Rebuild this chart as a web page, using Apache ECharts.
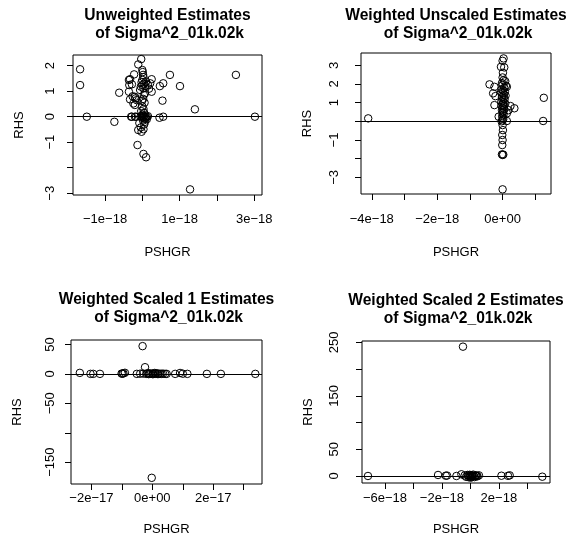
<!DOCTYPE html>
<html>
<head>
<meta charset="utf-8">
<script src="https://cdn.jsdelivr.net/npm/echarts@6/dist/echarts.min.js"></script>
<style>
  html, body { margin: 0; padding: 0; background: #fff; }
  #chart { width: 568px; height: 554px; }
</style>
</head>
<body>
<div id="chart"></div>
<script>
// PSHGR values are kept in units of 1e-18 (panel 3 in units of 1e-17), pairs are [PSHGR, RHS]
const unweighted = [
  [-1.67, 1.86], [-1.67, 1.24], [-1.49, 0.0], [-0.75, -0.2], [-0.62, 0.94],
  [-0.03, 2.26], [-0.11, 2.05], [-0.22, 1.66], [-0.36, 1.44], [-0.28, 1.27], [-0.33, 1.47], [-0.35, 1.24],
  [-0.36, 0.98], [-0.33, 0.68], [-0.2, 0.78], [-0.15, 0.65], [-0.24, 0.52], [-0.2, 0.46], [-0.26, 0.8], [-0.18, 0.72],
  [-0.3, 0.0], [-0.17, 0.0], [-0.28, 0.0], [-0.2, 0.0],
  [-0.11, -0.52], [-0.04, -0.42], [0.03, -0.49], [-0.02, -0.59], [0.05, -0.3], [-0.08, -0.25],
  [-0.13, -1.11], [0.03, -1.46], [0.1, -1.59],
  [0.0, 1.83], [0.01, 1.75], [0.02, 1.64], [0.03, 1.55], [0.0, 1.44], [0.0, 1.24], [0.03, 1.11],
  [-0.06, 1.05], [0.07, 0.92], [-0.02, 1.35], [0.05, 1.3], [0.08, 1.2], [-0.04, 1.18], [0.1, 1.38],
  [0.04, 0.85], [0.02, 0.7], [-0.01, 0.62], [0.06, 0.55], [0.0, 0.4], [0.03, 0.3], [-0.03, 0.22],
  [0.05, 0.15], [0.0, 0.08], [0.02, 0.04], [-0.02, 0.02], [0.04, 0.0], [0.08, 0.0], [0.12, 0.0],
  [0.15, 0.02], [0.0, -0.04], [0.06, -0.08], [0.1, -0.05], [-0.05, 0.0], [0.02, -0.15], [0.07, -0.2], [0.12, -0.1],
  [0.25, 1.47], [0.21, 1.31], [0.25, 0.98], [0.15, 1.25], [0.18, 1.1], [0.47, 1.2], [0.56, 1.31],
  [0.54, 0.63], [0.46, -0.04], [0.56, 0.0], [0.74, 1.64], [1.01, 1.2], [1.41, 0.29], [1.28, -2.85],
  [2.51, 1.64], [3.02, 0.0]
];

const weightedUnscaled = [
  [-4.11, 0.16], [-0.4, 1.98], [-0.25, 1.85], [-0.29, 1.5], [-0.22, 1.35], [-0.25, 0.87], [-0.12, 0.25],
  [0.03, 3.37], [0.0, 3.24], [-0.05, 2.92], [0.05, 2.89], [0.01, 2.6], [0.0, 2.35], [0.03, 2.2],
  [0.08, 2.15], [-0.02, 2.05], [0.1, 1.9], [0.13, 1.85], [0.0, 1.95], [0.05, 1.8], [-0.03, 1.72],
  [0.02, 1.65], [0.07, 1.6], [-0.05, 1.55], [0.0, 1.5], [0.04, 1.42], [0.09, 1.38], [-0.02, 1.3],
  [0.03, 1.25], [0.06, 1.18], [0.0, 1.12], [-0.04, 1.05], [0.02, 1.0], [0.08, 0.95], [0.01, 0.9],
  [-0.03, 0.85], [0.04, 0.8], [0.0, 0.72], [0.05, 0.65], [-0.02, 0.6], [0.02, 0.52], [0.0, 0.45],
  [0.03, 0.38], [-0.01, 0.3], [0.0, 0.2], [0.02, 0.12], [0.0, 0.05], [-0.03, 0.0],
  [0.24, 0.82], [0.36, 0.7], [0.18, 0.6], [0.13, 0.43], [0.13, 0.02],
  [0.0, -0.2], [0.01, -0.47], [-0.01, -0.73], [0.0, -1.0], [-0.01, -1.27], [-0.02, -1.77], [0.0, -1.8], [0.02, -1.78],
  [0.0, -3.64], [1.26, 1.26], [1.24, 0.02]
];

const weightedScaled1 = [
  [-2.38, 1.7], [-2.03, 0], [-1.94, 0], [-1.72, 0], [-1.01, 0.5], [-0.95, 1.0], [-0.9, 1.8], [-0.98, 0.2],
  [-0.51, 0], [-0.4, 0.3], [-0.32, 47.1], [-0.24, 11.3], [-0.3, 0.5], [-0.2, 0], [-0.15, 1.2], [-0.1, 0.2],
  [-0.05, 0.8], [0.0, 0], [0.02, -0.5], [0.05, 0.6], [0.1, 0.1], [0.15, 0.9], [0.2, 0], [0.25, 0.3],
  [0.3, 0], [0.35, 0.4], [0.42, 0], [0.47, 0], [-0.12, -0.4], [0.08, 1.5], [0.18, -0.3],
  [0.75, 0], [0.91, 1.5], [1.0, 0.3], [1.15, 0], [1.79, 0], [2.25, 0], [3.38, 0], [-0.02, -176.5]
];

const weightedScaled2 = [
  [-7.19, 0], [-2.27, 1.9], [-1.73, 0.5], [-1.64, 0.8], [-0.98, 0], [-0.63, 3.2], [-0.52, 242],
  [-0.4, 1.0], [-0.3, -1.5], [-0.2, 2.0], [-0.1, -2.5], [0.0, 0.5], [0.05, -3.0], [0.1, 1.5],
  [0.15, -1.0], [0.2, 2.5], [0.25, 0], [0.3, -2.0], [0.35, 1.0], [0.4, 0.2], [0.5, -0.5], [0.6, 1.2],
  [0.0, -1.5], [-0.05, 2.2], [-0.15, 0.3], [0.12, -0.4], [0.45, 0.8],
  [2.18, 0.5], [2.64, 0.3], [2.76, 1.2], [5.05, -1.3]
];

// axis ticks and the labels R kept (overlapping ones dropped)
const xTicks1 = [-1, 0, 1, 2, 3], xLabels1 = [-1, 1, 3];
const yTicks1 = [-3, -2, -1, 0, 1, 2], yLabels1 = [-3, -1, 0, 1, 2];
const xTicks2 = [-4, -3, -2, -1, 0, 1], xLabels2 = [-4, -2, 0];
const yTicks2 = [-3, -2, -1, 0, 1, 2, 3], yLabels2 = [-3, -1, 1, 2, 3];
const xTicks3 = [-2, -1, 0, 1, 2, 3], xLabels3 = [-2, 0, 2];
const yTicks3 = [-150, -100, -50, 0, 50], yLabels3 = [-150, -50, 0, 50];
const xTicks4 = [-6, -4, -2, 0, 2, 4], xLabels4 = [-6, -2, 2];
const yTicks4 = [0, 50, 100, 150, 200, 250], yLabels4 = [0, 50, 150, 250];

const titles = [
  'Unweighted Estimates\n of Sigma^2_01k.02k',
  'Weighted Unscaled Estimates\n of Sigma^2_01k.02k',
  'Weighted Scaled 1 Estimates\n of Sigma^2_01k.02k',
  'Weighted Scaled 2 Estimates\n of Sigma^2_01k.02k'
];

const FONT = "'Liberation Sans', Arial, Helvetica, sans-serif";

const sci = exp => v => v === 0 ? '0e+00' : (v < 0 ? '\u2212' : '') + Math.abs(v) + 'e\u2212' + exp;
const plain = v => v < 0 ? '\u2212' + Math.abs(v) : String(v);

const panels = [
  { data: unweighted, grid: { left: 73, top: 55, width: 189, height: 140 }, titleTop: 6,
    xRange: [-1.86, 3.21], yRange: [-3.07, 2.42], xTicks: xTicks1, xLabels: xLabels1, yTicks: yTicks1, yLabels: yLabels1,
    exp: '18', xMargin: 18, xNameGap: 51, yMargin: 16 },
  { data: weightedUnscaled, grid: { left: 361, top: 53, width: 190, height: 141 }, titleTop: 6,
    xRange: [-4.33, 1.48], yRange: [-3.89, 3.66], xTicks: xTicks2, xLabels: xLabels2, yTicks: yTicks2, yLabels: yLabels2,
    exp: '18', xMargin: 19, xNameGap: 52, yMargin: 20 },
  { data: weightedScaled1, grid: { left: 71, top: 340, width: 191, height: 144 }, titleTop: 290,
    xRange: [-2.67, 3.6], yRange: [-187, 57.5], xTicks: xTicks3, xLabels: xLabels3, yTicks: yTicks3, yLabels: yLabels3,
    exp: '17', xMargin: 8, xNameGap: 39, yMargin: 14 },
  { data: weightedScaled2, grid: { left: 362, top: 341, width: 188, height: 142 }, titleTop: 291,
    xRange: [-7.61, 5.59], yRange: [-13.1, 252.6], xTicks: xTicks4, xLabels: xLabels4, yTicks: yTicks4, yLabels: yLabels4,
    exp: '18', xMargin: 9, xNameGap: 40, yMargin: 21 }
];

const chart = echarts.init(document.getElementById('chart'));

const option = {
  animation: false,
  backgroundColor: '#fff',
  textStyle: { fontFamily: FONT, color: '#000' },
  graphic: panels.map((p, i) => ({
    type: 'text',
    x: p.grid.left + p.grid.width / 2,
    y: p.titleTop,
    style: {
      text: titles[i],
      fill: '#000',
      font: 'bold 15.6px ' + FONT,
      textAlign: 'center',
      textVerticalAlign: 'top',
      lineHeight: 18.5
    }
  })),
  grid: panels.map(p => Object.assign({
    show: true,
    borderColor: '#000',
    borderWidth: 1,
    backgroundColor: 'transparent',
    containLabel: false
  }, p.grid)),
  xAxis: panels.map((p, i) => ({
    gridIndex: i,
    type: 'value',
    min: p.xRange[0],
    max: p.xRange[1],
    axisLine: { show: false, onZero: false },
    splitLine: { show: false },
    axisTick: { show: true, length: 6, lineStyle: { color: '#000', width: 1 }, customValues: p.xTicks },
    axisLabel: { customValues: p.xLabels, formatter: sci(p.exp), color: '#000', fontSize: 13, fontFamily: FONT, margin: p.xMargin },
    name: 'PSHGR',
    nameLocation: 'middle',
    nameGap: p.xNameGap,
    nameTextStyle: { color: '#000', fontSize: 13, fontFamily: FONT }
  })),
  yAxis: panels.map((p, i) => ({
    gridIndex: i,
    type: 'value',
    min: p.yRange[0],
    max: p.yRange[1],
    axisLine: { show: false, onZero: false },
    splitLine: { show: false },
    axisTick: { show: true, length: 6, lineStyle: { color: '#000', width: 1 }, customValues: p.yTicks },
    axisLabel: { customValues: p.yLabels, formatter: plain, rotate: 90, color: '#000', fontSize: 13, fontFamily: FONT, margin: p.yMargin },
    name: 'RHS',
    nameLocation: 'middle',
    nameRotate: 90,
    nameGap: 47,
    nameTextStyle: { color: '#000', fontSize: 13, fontFamily: FONT }
  })),
  series: panels.map((p, i) => ({
    type: 'scatter',
    xAxisIndex: i,
    yAxisIndex: i,
    data: p.data,
    symbol: 'circle',
    symbolSize: 7.5,
    itemStyle: { color: 'rgba(0,0,0,0)', borderColor: '#000', borderWidth: 1, opacity: 1 },
    markLine: {
      silent: true,
      symbol: ['none', 'none'],
      label: { show: false },
      lineStyle: { color: '#000', width: 1, type: 'solid' },
      data: [{ yAxis: 0 }]
    }
  }))
};

chart.setOption(option);
</script>
</body>
</html>
